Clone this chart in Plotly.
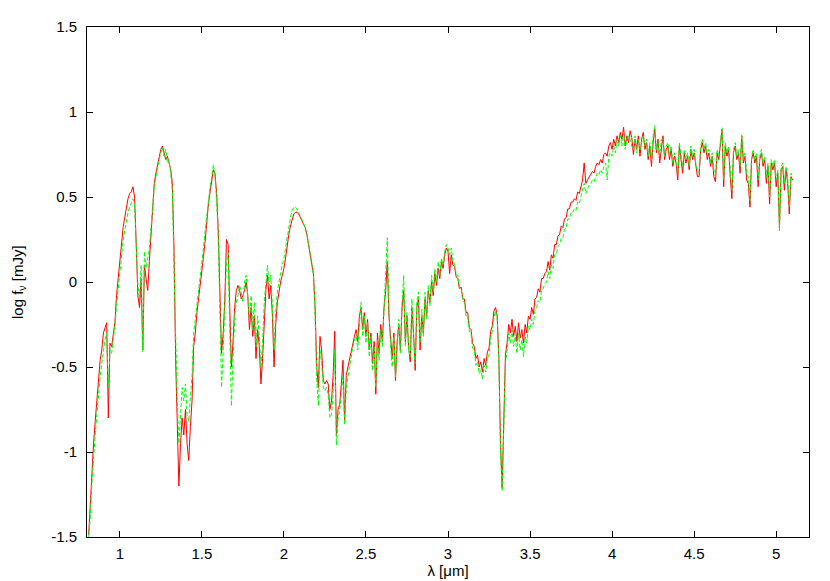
import plotly.graph_objects as go

# wavelength grid: 0.81 .. 5.10 um, step 0.01 (10 values per row below)
LAM_START = 0.81
LAM_STEP = 0.01

# model spectrum 1 (red, solid)
RED = [
    -1.49, -1.30, -1.10, -0.95, -0.82, -0.68, -0.58, -0.46, -0.40, -0.30,  # 0.81
    -0.27, -0.24, -0.80, -0.36, -0.38, -0.30, -0.24, -0.08, 0.02, 0.14,  # 0.91
    0.25, 0.32, 0.38, 0.44, 0.49, 0.52, 0.53, 0.56, 0.50, 0.22,  # 1.01
    -0.08, -0.15, 0.02, -0.40, 0.10, 0.02, -0.05, 0.12, 0.30, 0.48,  # 1.11
    0.58, 0.64, 0.69, 0.74, 0.78, 0.80, 0.76, 0.72, 0.74, 0.69,  # 1.21
    0.66, 0.58, 0.20, -0.45, -0.85, -1.20, -0.95, -0.80, -0.90, -0.75,  # 1.31
    -0.95, -1.05, -0.85, -0.70, -0.38, -0.30, -0.18, -0.10, -0.02, 0.04,  # 1.41
    0.15, 0.24, 0.36, 0.46, 0.53, 0.60, 0.66, 0.64, 0.52, 0.30,  # 1.51
    -0.12, -0.42, -0.30, -0.10, 0.25, 0.22, -0.15, -0.50, -0.35, -0.15,  # 1.61
    -0.05, -0.02, -0.05, -0.10, -0.08, -0.05, 0.00, -0.08, -0.28, -0.15,  # 1.71
    -0.32, -0.20, -0.45, -0.28, -0.38, -0.60, -0.45, -0.20, -0.05, 0.04,  # 1.81
    -0.10, -0.02, -0.20, -0.50, -0.25, -0.12, -0.05, 0.00, 0.04, 0.08,  # 1.91
    0.14, 0.22, 0.28, 0.33, 0.37, 0.40, 0.41, 0.41, 0.40, 0.38,  # 2.01
    0.35, 0.34, 0.32, 0.28, 0.22, 0.18, 0.12, 0.05, -0.15, -0.50,  # 2.11
    -0.62, -0.32, -0.40, -0.58, -0.60, -0.58, -0.60, -0.75, -0.70, -0.55,  # 2.21
    -0.29, -0.90, -0.75, -0.72, -0.60, -0.46, -0.82, -0.55, -0.50, -0.45,  # 2.31
    -0.40, -0.35, -0.32, -0.28, -0.35, -0.20, -0.15, -0.28, -0.18, -0.32,  # 2.41
    -0.22, -0.40, -0.30, -0.48, -0.35, -0.66, -0.30, -0.42, -0.25, -0.35,  # 2.51
    -0.15, -0.05, 0.12, -0.20, -0.35, -0.45, -0.30, -0.58, -0.35, -0.25,  # 2.61
    -0.40, -0.15, -0.05, -0.35, -0.20, -0.38, -0.47, -0.15, -0.30, -0.52,  # 2.71
    -0.15, -0.10, -0.40, -0.20, -0.30, -0.10, -0.20, -0.05, -0.12, 0.00,  # 2.81
    -0.08, 0.05, -0.02, 0.08, 0.02, 0.12, 0.08, 0.16, 0.20, 0.18,  # 2.91
    0.05, 0.16, 0.10, 0.09, 0.03, 0.02, -0.04, -0.03, -0.10, -0.10,  # 3.01
    -0.18, -0.18, -0.27, -0.28, -0.36, -0.38, -0.45, -0.43, -0.50, -0.47,  # 3.11
    -0.53, -0.45, -0.49, -0.41, -0.39, -0.29, -0.26, -0.17, -0.15, -0.20,  # 3.21
    -0.45, -0.95, -1.21, -0.75, -0.43, -0.36, -0.25, -0.30, -0.22, -0.32,  # 3.31
    -0.26, -0.35, -0.24, -0.33, -0.28, -0.36, -0.25, -0.30, -0.20, -0.22,  # 3.41
    -0.15, -0.19, -0.10, -0.09, -0.04, -0.06, 0.02, 0.02, 0.05, 0.06,  # 3.51
    0.12, 0.07, 0.16, 0.14, 0.22, 0.22, 0.27, 0.28, 0.33, 0.32,  # 3.61
    0.37, 0.38, 0.43, 0.43, 0.47, 0.47, 0.49, 0.48, 0.53, 0.52,  # 3.71
    0.56, 0.60, 0.70, 0.58, 0.60, 0.62, 0.63, 0.65, 0.64, 0.68,  # 3.81
    0.70, 0.69, 0.72, 0.70, 0.75, 0.76, 0.74, 0.80, 0.82, 0.78,  # 3.91
    0.84, 0.80, 0.86, 0.82, 0.88, 0.84, 0.91, 0.80, 0.86, 0.82,  # 4.01
    0.89, 0.85, 0.75, 0.84, 0.78, 0.86, 0.74, 0.84, 0.88, 0.78,  # 4.11
    0.82, 0.72, 0.80, 0.68, 0.82, 0.90, 0.76, 0.84, 0.70, 0.80,  # 4.21
    0.86, 0.72, 0.78, 0.80, 0.72, 0.78, 0.68, 0.74, 0.70, 0.60,  # 4.31
    0.80, 0.72, 0.64, 0.76, 0.70, 0.74, 0.66, 0.78, 0.72, 0.76,  # 4.41
    0.68, 0.62, 0.62, 0.78, 0.82, 0.76, 0.80, 0.72, 0.76, 0.68,  # 4.51
    0.74, 0.62, 0.59, 0.76, 0.72, 0.80, 0.90, 0.56, 0.80, 0.74,  # 4.61
    0.78, 0.62, 0.49, 0.76, 0.80, 0.72, 0.76, 0.64, 0.86, 0.70,  # 4.71
    0.74, 0.60, 0.58, 0.44, 0.72, 0.76, 0.70, 0.74, 0.56, 0.72,  # 4.81
    0.76, 0.68, 0.72, 0.58, 0.68, 0.46, 0.70, 0.66, 0.70, 0.56,  # 4.91
    0.64, 0.32, 0.66, 0.68, 0.54, 0.66, 0.58, 0.40, 0.62, 0.60,  # 5.01
]

# model spectrum 2 (green, dashed)
GREEN = [
    -1.50, -1.38, -1.18, -1.02, -0.90, -0.78, -0.66, -0.56, -0.48, -0.40,  # 0.81
    -0.34, -0.30, -0.62, -0.40, -0.42, -0.34, -0.26, -0.14, -0.04, 0.06,  # 0.91
    0.16, 0.24, 0.30, 0.36, 0.41, 0.44, 0.46, 0.49, 0.45, 0.20,  # 1.01
    -0.02, -0.10, 0.10, -0.41, 0.18, 0.08, 0.14, 0.20, 0.32, 0.46,  # 1.11
    0.56, 0.62, 0.68, 0.72, 0.76, 0.79, 0.74, 0.78, 0.70, 0.72,  # 1.21
    0.64, 0.54, 0.10, -0.40, -0.70, -0.95, -0.78, -0.62, -0.70, -0.60,  # 1.31
    -0.78, -0.82, -0.68, -0.55, -0.30, -0.22, -0.12, -0.04, 0.04, 0.10,  # 1.41
    0.20, 0.30, 0.40, 0.50, 0.56, 0.62, 0.69, 0.62, 0.48, 0.26,  # 1.51
    -0.20, -0.62, -0.40, -0.14, 0.12, 0.17, -0.25, -0.73, -0.45, -0.20,  # 1.61
    -0.12, -0.08, -0.02, -0.06, -0.12, 0.00, 0.04, -0.10, -0.22, -0.08,  # 1.71
    -0.28, -0.12, -0.38, -0.20, -0.32, -0.50, -0.36, -0.12, 0.00, 0.10,  # 1.81
    -0.02, 0.04, -0.14, -0.40, -0.18, -0.06, 0.00, 0.06, 0.10, 0.14,  # 1.91
    0.20, 0.27, 0.33, 0.38, 0.42, 0.44, 0.44, 0.43, 0.41, 0.39,  # 2.01
    0.36, 0.34, 0.32, 0.28, 0.22, 0.18, 0.12, 0.04, -0.20, -0.58,  # 2.11
    -0.73, -0.40, -0.48, -0.62, -0.64, -0.62, -0.66, -0.80, -0.78, -0.66,  # 2.21
    -0.40, -0.96, -0.80, -0.76, -0.66, -0.55, -0.84, -0.62, -0.56, -0.50,  # 2.31
    -0.44, -0.38, -0.35, -0.30, -0.40, -0.22, -0.12, -0.32, -0.20, -0.36,  # 2.41
    -0.24, -0.44, -0.32, -0.52, -0.38, -0.62, -0.34, -0.46, -0.28, -0.38,  # 2.51
    -0.18, -0.02, 0.26, -0.15, -0.38, -0.50, -0.32, -0.56, -0.38, -0.22,  # 2.61
    -0.42, -0.12, 0.04, -0.38, -0.18, -0.40, -0.44, -0.10, -0.32, -0.48,  # 2.71
    -0.12, -0.06, -0.36, -0.16, -0.32, -0.06, -0.22, -0.02, -0.14, 0.04,  # 2.81
    -0.06, 0.08, 0.00, 0.12, 0.04, 0.14, 0.10, 0.18, 0.22, 0.20,  # 2.91
    0.16, 0.20, 0.12, 0.11, 0.04, 0.04, -0.04, -0.04, -0.11, -0.12,  # 3.01
    -0.20, -0.20, -0.29, -0.30, -0.39, -0.40, -0.49, -0.47, -0.54, -0.52,  # 3.11
    -0.57, -0.49, -0.53, -0.45, -0.43, -0.33, -0.29, -0.21, -0.17, -0.22,  # 3.21
    -0.48, -1.00, -1.23, -0.80, -0.48, -0.40, -0.30, -0.36, -0.28, -0.38,  # 3.31
    -0.32, -0.42, -0.30, -0.40, -0.34, -0.44, -0.32, -0.36, -0.26, -0.28,  # 3.41
    -0.22, -0.25, -0.17, -0.15, -0.11, -0.12, -0.05, -0.04, -0.01, 0.00,  # 3.51
    0.06, 0.02, 0.10, 0.08, 0.16, 0.16, 0.21, 0.22, 0.26, 0.26,  # 3.61
    0.31, 0.32, 0.37, 0.37, 0.41, 0.41, 0.43, 0.42, 0.47, 0.46,  # 3.71
    0.50, 0.54, 0.58, 0.52, 0.55, 0.57, 0.58, 0.60, 0.59, 0.62,  # 3.81
    0.64, 0.63, 0.66, 0.64, 0.68, 0.70, 0.60, 0.74, 0.76, 0.74,  # 3.91
    0.80, 0.76, 0.84, 0.80, 0.86, 0.80, 0.88, 0.78, 0.84, 0.86,  # 4.01
    0.84, 0.80, 0.78, 0.86, 0.76, 0.84, 0.78, 0.82, 0.86, 0.80,  # 4.11
    0.84, 0.74, 0.82, 0.72, 0.86, 0.92, 0.78, 0.82, 0.74, 0.84,  # 4.21
    0.84, 0.74, 0.80, 0.82, 0.74, 0.80, 0.70, 0.76, 0.72, 0.64,  # 4.31
    0.82, 0.74, 0.68, 0.78, 0.72, 0.76, 0.68, 0.80, 0.74, 0.78,  # 4.41
    0.70, 0.66, 0.64, 0.80, 0.84, 0.78, 0.82, 0.74, 0.78, 0.70,  # 4.51
    0.76, 0.66, 0.62, 0.78, 0.74, 0.82, 0.91, 0.60, 0.82, 0.76,  # 4.61
    0.80, 0.66, 0.54, 0.78, 0.82, 0.74, 0.78, 0.68, 0.87, 0.72,  # 4.71
    0.76, 0.64, 0.62, 0.48, 0.74, 0.78, 0.72, 0.76, 0.60, 0.74,  # 4.81
    0.78, 0.70, 0.74, 0.62, 0.70, 0.50, 0.72, 0.68, 0.72, 0.60,  # 4.91
    0.66, 0.30, 0.68, 0.70, 0.58, 0.68, 0.62, 0.44, 0.64, 0.62,  # 5.01
]

X_TICKS = [1, 1.5, 2, 2.5, 3, 3.5, 4, 4.5, 5]
X_TICKTEXT = ["1", "1.5", "2", "2.5", "3", "3.5", "4", "4.5", "5"]
Y_TICKS = [-1.5, -1, -0.5, 0, 0.5, 1, 1.5]
Y_TICKTEXT = ["-1.5", "-1", "-0.5", "0", "0.5", "1", "1.5"]

lam_red = [round(LAM_START + LAM_STEP * i, 2) for i in range(len(RED))]
lam_green = [round(LAM_START + LAM_STEP * i, 2) for i in range(len(GREEN))]

FONT = "Liberation Sans, Arial, Helvetica, sans-serif"

fig = go.Figure()

fig.add_trace(go.Scatter(
    x=lam_red, y=RED,
    mode='lines',
    line=dict(color='#ff0000', width=1),
    showlegend=False
))

fig.add_trace(go.Scatter(
    x=lam_green, y=GREEN,
    mode='lines',
    line=dict(color='#00ff00', width=1, dash='4px,2px'),
    showlegend=False
))

axis_style = dict(
    showline=True, linecolor='black', linewidth=1, mirror='ticks',
    ticks='inside', ticklen=6, tickcolor='black', tickwidth=1,
    showgrid=False, zeroline=False, automargin=False,
    tickfont=dict(family=FONT, size=15, color='black'),
)

fig.update_xaxes(
    range=[0.8, 5.2], tickvals=X_TICKS, ticktext=X_TICKTEXT,
    ticklabelstandoff=3,
    title=dict(text="λ [μm]", standoff=4,
               font=dict(family=FONT, size=15, color='black')),
    **axis_style
)
fig.update_yaxes(
    range=[-1.5, 1.5], tickvals=Y_TICKS, ticktext=Y_TICKTEXT,
    ticklabelstandoff=6,
    **axis_style
)

# y-axis label placed by hand, as gnuplot does, near the left edge
fig.add_annotation(
    text="log f<sub>ν</sub> [mJy]",
    xref='paper', yref='paper', x=0, y=0.5,
    xanchor='center', yanchor='middle', xshift=-69,
    textangle=-90, showarrow=False,
    font=dict(family=FONT, size=15, color='black'),
)

fig.update_layout(
    width=830, height=581,
    margin=dict(l=79, r=29, t=19, b=52),
    plot_bgcolor='white',
    paper_bgcolor='white',
    font=dict(family=FONT, color='black'),
)

fig.write_html("out.html")
